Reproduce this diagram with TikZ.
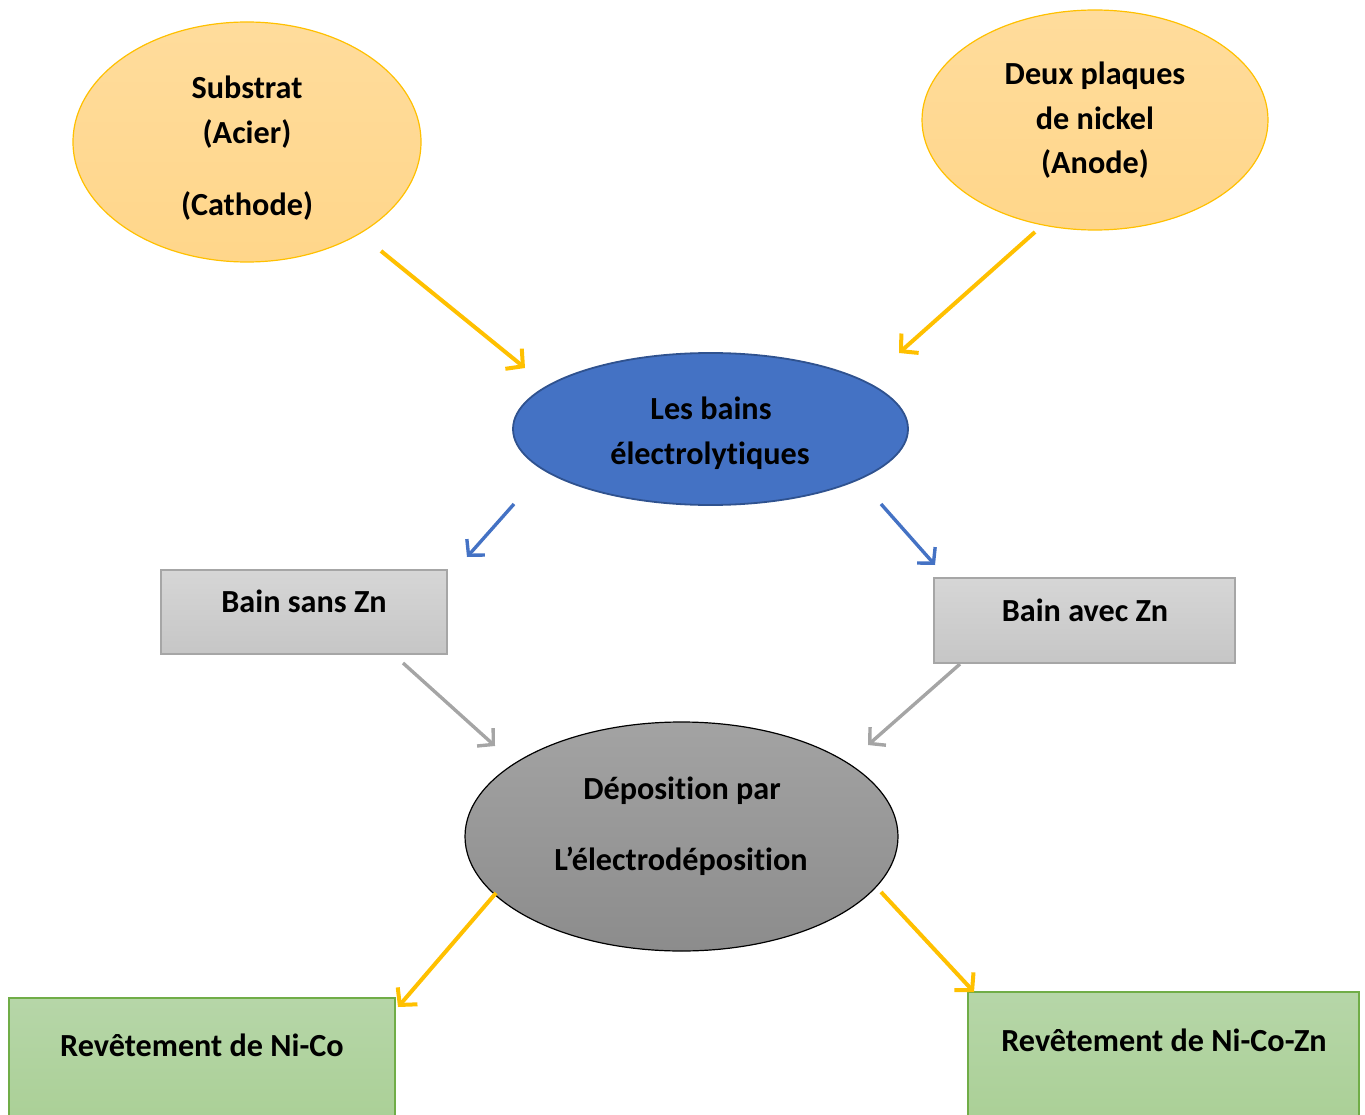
\documentclass[tikz,border=0pt]{standalone}
\usepackage{fontspec}
\setmainfont{Carlito}[RawFeature={-liga;-clig;-dlig}]
\usetikzlibrary{shapes.geometric,arrows.meta}
\definecolor{ygold}{HTML}{FFC000}
\definecolor{ofill1}{HTML}{FFDC9C}
\definecolor{ofill2}{HTML}{FFD68A}
\definecolor{bfill}{HTML}{4472C4}
\definecolor{bline}{HTML}{2F528F}
\definecolor{gtop}{HTML}{D6D6D6}
\definecolor{gbot}{HTML}{C6C6C6}
\definecolor{gline}{HTML}{A6A6A6}
\definecolor{dtop}{HTML}{A3A3A3}
\definecolor{dbot}{HTML}{8C8C8C}
\definecolor{ntop}{HTML}{B6D6A8}
\definecolor{nbot}{HTML}{A9CF94}
\definecolor{nline}{HTML}{70AD47}
\definecolor{arrgray}{HTML}{A5A5A5}
\tikzset{
  txt/.style={anchor=base,inner sep=0pt,font=\fontsize{32.2}{38}\selectfont\bfseries,text=black},
  orangeell/.style={ellipse,inner sep=0pt,top color=ofill1,bottom color=ofill2,draw=ygold,line width=1.2pt},
  blueell/.style={ellipse,inner sep=0pt,fill=bfill,draw=bline,line width=1.8pt},
  grayell/.style={ellipse,inner sep=0pt,top color=dtop,bottom color=dbot,draw=black,line width=1.2pt},
  graybox/.style={rectangle,inner sep=0pt,top color=gtop,bottom color=gbot,draw=gline,line width=1.2pt},
  greenbox/.style={rectangle,inner sep=0pt,top color=ntop,bottom color=nbot,draw=nline,line width=1.4pt},
  yarr/.style={draw=ygold,line width=4pt,-{Straight Barb[length=12pt,width=26pt,line width=4pt]}},
  barr/.style={draw=bfill,line width=3.4pt,-{Straight Barb[length=11pt,width=24pt,line width=3.4pt]}},
  garr/.style={draw=arrgray,line width=3.4pt,-{Straight Barb[length=11pt,width=24pt,line width=3.4pt]}},
}
\begin{document}
\begin{tikzpicture}[x=1pt,y=-1pt]
\useasboundingbox (0,0) rectangle (1365,1115);
\clip (0,0) rectangle (1365,1115);
% shapes
\node[orangeell,minimum width=348pt,minimum height=240pt] (sub) at (247,142) {};
\node[orangeell,minimum width=346pt,minimum height=220pt] (ano) at (1095,120) {};
\node[blueell,minimum width=395pt,minimum height=152pt] (bain) at (710.5,429) {};
\node[graybox,minimum width=286pt,minimum height=84pt] (sans) at (304,612) {};
\node[graybox,minimum width=301pt,minimum height=85pt] (avec) at (1084.5,620.5) {};
\node[grayell,minimum width=433pt,minimum height=229pt] (depo) at (681.5,836.5) {};
\node[greenbox,minimum width=386pt,minimum height=140pt] (nico) at (202,1068) {};
\node[greenbox,minimum width=391pt,minimum height=146pt] (nicozn) at (1163.5,1065) {};
% texts
\node[txt] (t1) at (247,99) {Substrat};
\node[txt] (t2) at (247,144) {(Acier)};
\node[txt] (t3) at (247,216) {(Cathode)};
\node[txt] (t4) at (1095,85) {Deux plaques};
\node[txt] (t5) at (1095,130) {de nickel};
\node[txt] (t6) at (1095,174) {(Anode)};
\node[txt] (t7) at (711,419) {Les bains};
\node[txt] (t8) at (710,464) {électrolytiques};
\node[txt] (t9) at (304,612) {Bain sans Zn};
\node[txt] (t10) at (1085,621) {Bain avec Zn};
\node[txt] (t11) at (682,799) {Déposition par};
\node[txt] (t12) at (681,870) {L’électrodéposition};
\node[txt] (t13) at (202,1056) {Revêtement de Ni-Co};
\node[txt] (t14) at (1164,1051) {Revêtement de Ni-Co-Zn};
% connector ends
\coordinate (a1s) at (381,251); \coordinate (a1e) at (525,368);
\coordinate (a2s) at (1035,232); \coordinate (a2e) at (899,353);
\coordinate (a3s) at (514,504); \coordinate (a3e) at (467,557);
\coordinate (a4s) at (881,504); \coordinate (a4e) at (935,565);
\coordinate (a5s) at (403,663); \coordinate (a5e) at (495,746);
\coordinate (a6s) at (960,664); \coordinate (a6e) at (868,745);
\coordinate (a7s) at (496,893); \coordinate (a7e) at (398,1007);
\coordinate (a8s) at (881,892); \coordinate (a8e) at (974,992);
\draw[yarr] (a1s) -- (a1e);
\draw[yarr] (a2s) -- (a2e);
\draw[barr] (a3s) -- (a3e);
\draw[barr] (a4s) -- (a4e);
\draw[garr] (a5s) -- (a5e);
\draw[garr] (a6s) -- (a6e);
\draw[yarr] (a7s) -- (a7e);
\draw[yarr] (a8s) -- (a8e);
\end{tikzpicture}
\end{document}
